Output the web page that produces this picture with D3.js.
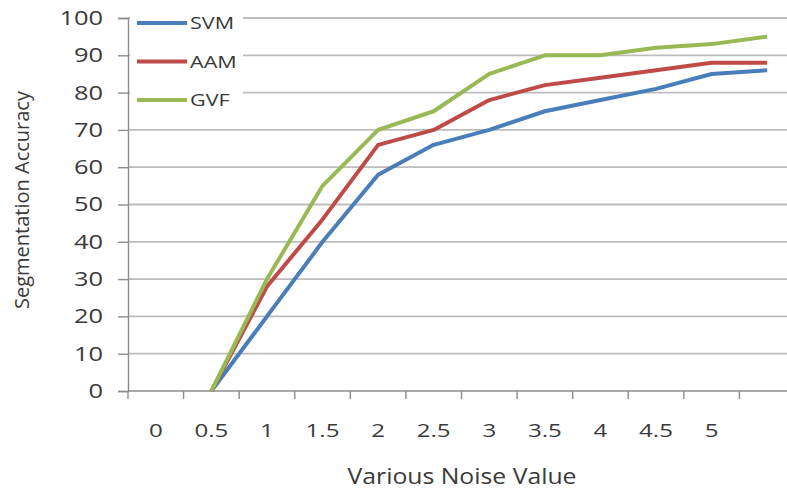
<!DOCTYPE html>
<html>
<head>
<meta charset="utf-8">
<script src="https://cdn.jsdelivr.net/npm/d3@7"></script>
<style>
  html, body { margin: 0; padding: 0; background: #fff; }
  svg { display: block; font-family: "Open Sans", "Noto Sans", sans-serif; }
</style>
</head>
<body>
<svg id="chart" width="787" height="491"></svg>
<script>
// Categories (last band has no label in the original)
const categories = ["0", "0.5", "1", "1.5", "2", "2.5", "3", "3.5", "4", "4.5", "5", ""];
const seriesNames = ["SVM", "AAM", "GVF"];
const svmValues = [null, 0, 20, 40, 58, 66, 70, 75, 78, 81, 85, 86];
const aamValues = [null, 0, 28, 46, 66, 70, 78, 82, 84, 86, 88, 88];
const gvfValues = [null, 0, 30, 55, 70, 75, 85, 90, 90, 92, 93, 95];
const yTicks = [0, 10, 20, 30, 40, 50, 60, 70, 80, 90, 100];
const colors = ["#4a7ebb", "#be4b48", "#98b954"];

(function () {
const series = [svmValues, aamValues, gvfValues].map((vals, i) => ({
  name: seriesNames[i],
  color: colors[i],
  points: categories.map((c, j) => ({ key: j, v: vals[j] })).filter(p => p.v != null)
}));

const svg = d3.select("#chart");
const pLeft = 128, pRight = 795, pTop = 18, pBottom = 391;
const SX = 1.27; // horizontal stretch of the original image text
const textCol = "#3a3a3a";

const x = d3.scaleBand().domain(d3.range(categories.length)).range([pLeft, pRight]);
const y = d3.scaleLinear().domain([0, 100]).range([pBottom, pTop]);

// gridlines
svg.append("g").selectAll("line").data(yTicks.filter(t => t > 0)).join("line")
  .attr("x1", pLeft).attr("x2", 787)
  .attr("y1", d => y(d)).attr("y2", d => y(d))
  .attr("stroke", "#bdbdbd").attr("stroke-width", 1.8);

// y axis
const yAxis = d3.axisLeft(y).tickValues(yTicks).tickSize(10).tickPadding(15);
const gy = svg.append("g").attr("transform", `translate(${pLeft},0)`).call(yAxis);
gy.select(".domain").attr("stroke", "#8c8c8c").attr("stroke-width", 1.4);
gy.selectAll(".tick line").attr("stroke", "#8c8c8c").attr("stroke-width", 1.4);
gy.selectAll(".tick text")
  .attr("font-size", 20).attr("fill", textCol)
  .attr("font-family", "'Open Sans', sans-serif")
  .attr("x", 0)
  .attr("transform", `translate(-25,0) scale(${SX},1)`);

// x axis: ticks at band boundaries
const boundaries = d3.range(categories.length + 1).map(i => pLeft + i * x.bandwidth());
const gx = svg.append("g");
gx.append("line").attr("x1", pLeft).attr("x2", 787).attr("y1", pBottom).attr("y2", pBottom)
  .attr("stroke", "#8c8c8c").attr("stroke-width", 1.4);
gx.selectAll("line.tk").data(boundaries).join("line").attr("class", "tk")
  .attr("x1", d => d).attr("x2", d => d).attr("y1", pBottom).attr("y2", pBottom + 8)
  .attr("stroke", "#8c8c8c").attr("stroke-width", 1.4);
gx.selectAll("text").data(categories).join("text")
  .attr("transform", (d, i) => `translate(${x(i) + x.bandwidth() / 2},437) scale(${SX},1)`)
  .attr("text-anchor", "middle")
  .attr("font-size", 19).attr("fill", textCol)
  .text(d => d);

// lines
const line = d3.line().x(d => x(d.key) + x.bandwidth() / 2).y(d => y(d.v));
svg.append("g").selectAll("path").data(series).join("path")
  .attr("d", d => line(d.points))
  .attr("fill", "none")
  .attr("stroke", d => d.color)
  .attr("stroke-width", 4)
  .attr("stroke-linejoin", "round");

// legend
const lg = svg.append("g");
lg.append("rect").attr("x", 130).attr("y", 6).attr("width", 113).attr("height", 108).attr("fill", "#fff");
series.forEach((s, i) => {
  const cy = 23 + i * 38.5;
  lg.append("line").attr("x1", 137).attr("x2", 187).attr("y1", cy).attr("y2", cy)
    .attr("stroke", s.color).attr("stroke-width", 4);
  lg.append("text").attr("transform", `translate(190,${cy}) scale(${SX},1)`).attr("dy", "0.36em")
    .attr("font-size", 17).attr("fill", textCol).text(s.name);
});

// axis titles
svg.append("text").attr("transform", `translate(462,484) scale(1.18,1)`).attr("text-anchor", "middle")
  .attr("font-size", 21).attr("fill", textCol).text("Various Noise Value");
svg.append("text").attr("transform", "translate(29,200) rotate(-90)")
  .attr("text-anchor", "middle").attr("font-size", 20).attr("fill", textCol)
  .text("Segmentation Accuracy");
})();
</script>
</body>
</html>
